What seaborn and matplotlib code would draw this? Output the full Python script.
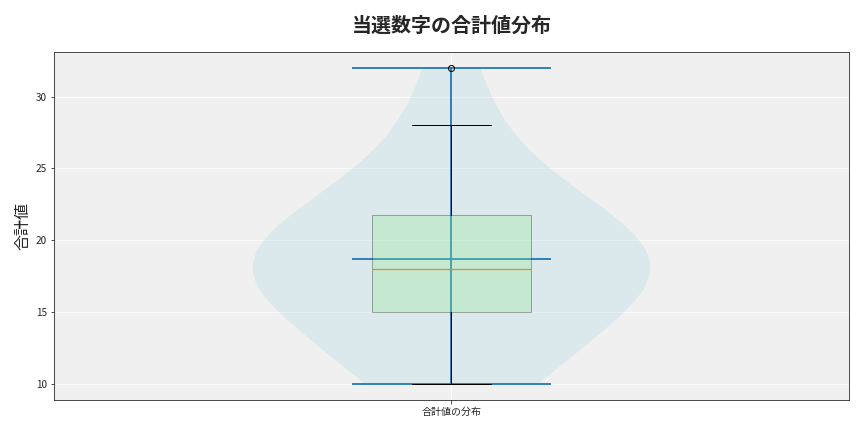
import numpy as np
import matplotlib
matplotlib.use('Agg')
import matplotlib.pyplot as plt
import seaborn as sns

# ----------------------- Data -------------------------------------------
sums = [10, 10, 12, 12, 15, 15, 15, 16, 17, 18, 18,
        18, 19, 20, 21, 21, 22, 22, 25, 25, 28, 32]
tick_labels = ['合計値の分布']

# ----------------------- Style ------------------------------------------
sns.set_style('whitegrid', {
    'axes.facecolor': '#f0f0f0',
    'axes.edgecolor': '#222222',
    'grid.color': 'white',
    'xtick.bottom': True,
    'ytick.left': True,
})
plt.rcParams['font.family'] = ['Noto Sans CJK JP', 'DejaVu Sans']

fig, ax = plt.subplots(figsize=(12, 6), dpi=72)

parts = ax.violinplot(sums, positions=[1], showmeans=True)
for pc in parts['bodies']:
    pc.set_facecolor('lightblue')
    pc.set_edgecolor('none')
    pc.set_alpha(0.3)
for key in ('cmeans', 'cmins', 'cmaxes', 'cbars'):
    parts[key].set_linewidth(1.8)

ax.boxplot(sums, positions=[1], widths=0.2, patch_artist=True,
           boxprops=dict(facecolor='lightgreen', alpha=0.3),
           medianprops=dict(color='#ff7f0e', linewidth=1.2, zorder=4))

ax.set_xticks([1])
ax.set_xticklabels(tick_labels, fontsize=10)
ax.tick_params(axis='y', labelsize=10)
ax.set_xlim(0.5, 1.5)
ax.set_ylabel('合計値', fontsize=16)
ax.set_title('当選数字の合計値分布', fontsize=20, fontweight='bold', pad=20)

fig.subplots_adjust(left=0.0625, right=0.9826, top=0.8796, bottom=0.0741)
plt.savefig('out.png', dpi=72)
